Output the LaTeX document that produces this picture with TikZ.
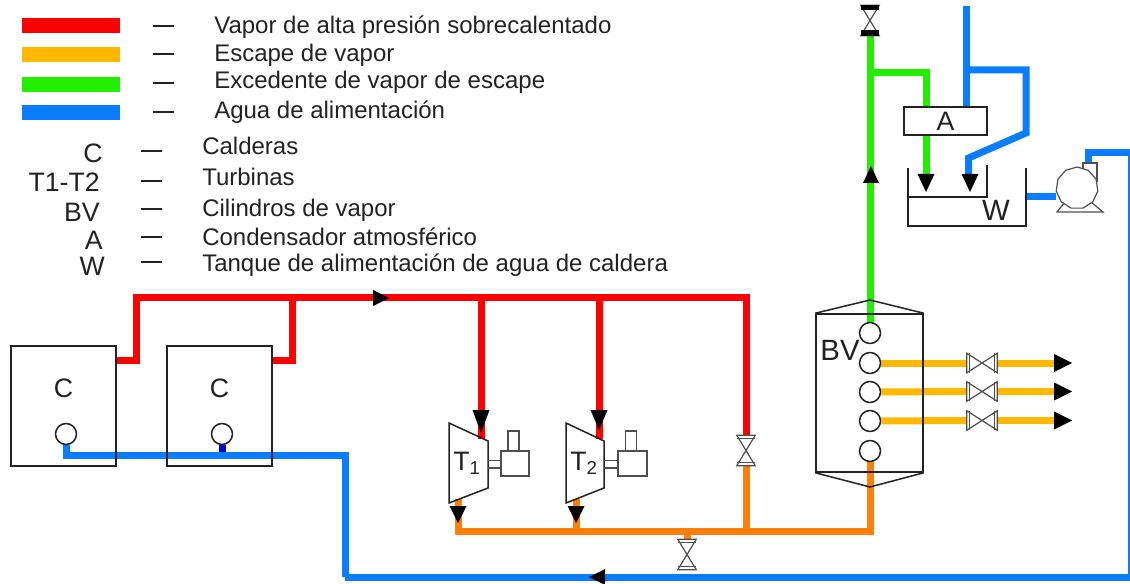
\documentclass[tikz,border=0pt]{standalone}
\usepackage{fontspec}
\setmainfont{Liberation Sans}
\usetikzlibrary{shapes.geometric}
\definecolor{cred}{HTML}{FF0000}
\definecolor{cyel}{HTML}{FFB800}
\definecolor{cgrn}{HTML}{22EE00}
\definecolor{cblu}{HTML}{0A7CFF}
\definecolor{cora}{HTML}{FF7F0A}
\definecolor{cdbl}{HTML}{0000E0}
\definecolor{cink}{HTML}{222222}
\pgfdeclarelayer{pipes}
\pgfsetlayers{pipes,main}
\def\px{0.75pt}
\tikzset{
  pipe/.style={line width=7*\px,line cap=butt,miter limit=10},
  redpipe/.style={pipe,draw=cred},
  yelpipe/.style={pipe,draw=cyel},
  grnpipe/.style={pipe,draw=cgrn},
  blupipe/.style={pipe,draw=cblu},
  orapipe/.style={pipe,draw=cora},
  outline/.style={draw=cink,line width=1.5*\px},
  thin outline/.style={draw=cink!80,line width=1.2*\px},
  boiler/.style={outline,line width=2.2*\px,minimum width=105*\px,minimum height=120*\px,inner sep=0},
  port/.style={circle,outline,fill=white,minimum size=21*\px,inner sep=0},
  swatch/.style={minimum width=98*\px,minimum height=15*\px,inner sep=0},
  legdash/.style={draw=cink,line width=1.6*\px},
  legtext/.style={anchor=west,inner sep=0,font=\fontsize{18pt}{20pt}\selectfont,text=cink},
  legkey/.style={anchor=east,inner sep=0,font=\fontsize{20pt}{22pt}\selectfont,text=cink},
  lab/.style={inner sep=0,font=\fontsize{20pt}{22pt}\selectfont,text=cink},
  box/.style={rectangle,inner sep=0},
  head/.style={fill=black,draw=none},
}
% vertical valve: name, x, y
\newcommand{\vvalve}[3]{%
  \node[box,minimum width=18*\px,minimum height=30*\px] (#1) at (#2,#3) {};
  \draw[thin outline] (#1.north west) -- (#1.south east) -- (#1.south west) -- (#1.north east) -- cycle;
  \draw[thin outline] ([yshift=-3*\px]#1.north west) -- ([yshift=-3*\px]#1.north east);
  \draw[thin outline] ([yshift=3*\px]#1.south west) -- ([yshift=3*\px]#1.south east);
}
% horizontal valve: name, x, y
\newcommand{\hvalve}[3]{%
  \node[box,minimum width=30*\px,minimum height=19*\px] (#1) at (#2,#3) {};
  \draw[thin outline] (#1.north west) -- (#1.south east) -- (#1.north east) -- (#1.south west) -- cycle;
  \draw[thin outline] ([xshift=3*\px]#1.north west) -- ([xshift=3*\px]#1.south west);
  \draw[thin outline] ([xshift=-3*\px]#1.north east) -- ([xshift=-3*\px]#1.south east);
}
\newcommand{\hdown}[3]{\fill[head] (#1-8.5,#2) -- (#1+8.5,#2) -- (#1,#3) -- cycle;}
\begin{document}
\begin{tikzpicture}[x=0.75pt,y=-0.75pt]
\useasboundingbox (0,0) rectangle (1130,584);
\clip (0,0) rectangle (1130,584);

% legend
\node[swatch,fill=cred] (s1) at (71,26) {};
\node[swatch,fill=cyel] (s2) at (71,54.5) {};
\node[swatch,fill=cgrn] (s3) at (71,84.5) {};
\node[swatch,fill=cblu] (s4) at (71,112.5) {};
\draw[legdash] (153,26) -- (174,26);
\draw[legdash] (153,54) -- (174,54);
\draw[legdash] (153,83) -- (174,83);
\draw[legdash] (153,112) -- (174,112);
\node[legtext] (t1) at (214,27) {Vapor de alta presión sobrecalentado};
\node[legtext] (t2) at (214,55) {Escape de vapor};
\node[legtext] (t3) at (214,82) {Excedente de vapor de escape};
\node[legtext] (t4) at (214,112) {Agua de alimentación};
\node[legkey] (k1) at (103,153) {C};
\node[legkey] (k2) at (100,182) {T1-T2};
\node[legkey] (k3) at (100,212) {BV};
\node[legkey] (k4) at (103,240) {A};
\node[legkey] (k5) at (105,266) {W};
\draw[legdash] (141,151) -- (162,151);
\draw[legdash] (141,181) -- (162,181);
\draw[legdash] (141,209) -- (162,209);
\draw[legdash] (141,237) -- (162,237);
\draw[legdash] (141,262) -- (162,262);
\node[legtext] (d1) at (202,146) {Calderas};
\node[legtext] (d2) at (202,177) {Turbinas};
\node[legtext] (d3) at (202,210) {Cilindros de vapor};
\node[legtext] (d4) at (202,237) {Condensador atmosférico};
\node[legtext] (d5) at (202,265) {Tanque de alimentación de agua de caldera};

% boilers
\node[boiler] (C1) at (63.5,406) {};
\node[boiler] (C2) at (219.5,406) {};
\node[lab] (C1l) at (63.5,388) {C};
\node[lab] (C2l) at (219.5,388) {C};
\node[port] (P1) at (66,434) {};
\node[port] (P2) at (222,434) {};

% turbines
\draw[outline] (449,423) -- (488,441) -- (488,488) -- (449,503) -- cycle;
\draw[outline] (566,423) -- (604,441) -- (604,488) -- (566,503) -- cycle;
\node[lab] (T1) at (467,463) {T\textsubscript{1}};
\node[lab] (T2) at (584,463) {T\textsubscript{2}};
\node[box,thin outline,minimum width=28*\px,minimum height=25*\px] (G1) at (515,463.5) {};
\node[box,thin outline,minimum width=29*\px,minimum height=25*\px] (G2) at (632.5,463.5) {};
\node[box,thin outline,minimum width=11*\px,minimum height=20*\px] (E1) at (513.5,441) {};
\node[box,thin outline,minimum width=11*\px,minimum height=20*\px] (E2) at (631,441) {};
\draw[thin outline] (488,460.5) -- (G1.west |- 0,460.5);
\draw[thin outline] (488,468) -- (G1.west |- 0,468);
\draw[thin outline] (604,460.5) -- (G2.west |- 0,460.5);
\draw[thin outline] (604,468) -- (G2.west |- 0,468);

% valves
\vvalve{VR}{746}{450.5}
\vvalve{VO}{687}{554.5}
\vvalve{VT}{870}{20.5}
\fill[black] (861,5) rectangle (879,10);
\fill[black] (861,30) rectangle (879,36);
\hvalve{H1}{982}{363}
\hvalve{H2}{982}{391.5}
\hvalve{H3}{982}{420.5}

% steam drum
\node[box,outline,minimum width=107*\px,minimum height=158*\px] (BV) at (869.5,393) {};
\draw[outline] (BV.north west) -- (870,300) -- (BV.north east);
\draw[outline] (BV.south west) -- (870,487) -- (BV.south east);
\node[lab,font=\fontsize{22pt}{24pt}\selectfont] (BVl) at (840,350) {BV};
\node[port] (B1) at (870,333) {};
\node[port] (B2) at (870,363) {};
\node[port] (B3) at (870,392) {};
\node[port] (B4) at (870,421) {};
\node[port] (B5) at (870,451) {};

% condenser and tank
\node[box,outline,minimum width=83*\px,minimum height=28*\px] (A) at (945.5,121) {};
\node[lab] (Al) at (945.5,121) {A};
\draw[outline] (908,168) -- (908,226) -- (1026,226) -- (1026,168);
\draw[outline] (908,197) -- (987,197) -- (987,165);
\node[lab,font=\fontsize{22pt}{24pt}\selectfont] (Wl) at (996,210) {W};
\coordinate (Wout) at (1026,197);

% pump
\draw[thin outline] (1065,202) -- (1057,212) -- (1103,212) -- (1091,202);
\node[box,thin outline,fill=white,minimum width=14*\px,minimum height=18*\px] (Pout) at (1090,172) {};
\node[regular polygon,regular polygon sides=11,thin outline,fill=white,minimum size=42*\px,inner sep=0] (pump) at (1077,188) {};

% pipes
\begin{pgfonlayer}{pipes}
\coordinate (r1) at (C1.east |- 0,360);
\coordinate (r2) at (C2.east |- 0,360);
\coordinate (ta) at (136,298);
\coordinate (tb) at (292,298);
\coordinate (tc) at (481,298);
\coordinate (td) at (599,298);
\coordinate (te) at (746,298);
\draw[redpipe] (r1) -| (ta) -- (te) -- (VR.north);
\draw[redpipe] (r2) -| (tb);
\draw[redpipe] (tc) -- (481,439);
\draw[redpipe] (td) -- (599,439);
\coordinate (o1) at (458,499);
\coordinate (o2) at (576,499);
\coordinate (oc) at (870,531);
\draw[orapipe] (o1) |- (oc) -- (B5.south);
\draw[orapipe] (o2) -- (576,531);
\draw[orapipe] (VR.south) -- (746,531);
\draw[orapipe] (687,531) -- (VO.north);
\draw[grnpipe] (B1.north) -- (VT.south);
\coordinate (ga) at (870,73);
\coordinate (gb) at (926,73);
\draw[grnpipe] (ga) -- (gb) -- (gb |- A.north);
\draw[grnpipe] (gb |- A.south) -- (926,178);
\draw[yelpipe] (B2.east) -- (H1.west);
\draw[yelpipe] (B3.east) -- (H2.west);
\draw[yelpipe] (B4.east) -- (H3.west);
\draw[yelpipe] (H1.east) -- (1056,363);
\draw[yelpipe] (H2.east) -- (1056,391.5);
\draw[yelpipe] (H3.east) -- (1056,420.5);
\coordinate (wtop) at (966,6);
\coordinate (wa) at (966,70);
\draw[blupipe] (wtop) -- (wtop |- A.north);
\draw[blupipe] (wa) -- (1026,70) -- (1026,133) -- (968.5,158) -- (968.5,178);
\draw[blupipe] (Wout) -- (pump.west |- 0,197);
\coordinate (feed) at (345,577);
\draw[blupipe] (P1.south) -- (66,455) -| (feed);
\draw[blupipe] (feed) -- (1131.5,577) -- (1131.5,153) -- (1088,153) -- (Pout.north -| 1088,0);
\draw[pipe,draw=cdbl] (P2.south) -- (222,452);
\end{pgfonlayer}

% arrowheads
\hdown{481}{410}{433}
\hdown{599}{410}{430}
\hdown{458}{506}{523}
\hdown{576}{506}{523}
\hdown{926}{174}{192}
\hdown{970}{174}{192}
\fill[head] (863,183) -- (879,183) -- (871,166) -- cycle;
\fill[head] (373,290) -- (373,306) -- (389,298) -- cycle;
\fill[head] (605,569) -- (605,585) -- (589,577) -- cycle;
\fill[head] (1054,354) -- (1054,372) -- (1072,363) -- cycle;
\fill[head] (1054,382.5) -- (1054,400.5) -- (1072,391.5) -- cycle;
\fill[head] (1054,411.5) -- (1054,429.5) -- (1072,420.5) -- cycle;
\end{tikzpicture}
\end{document}
